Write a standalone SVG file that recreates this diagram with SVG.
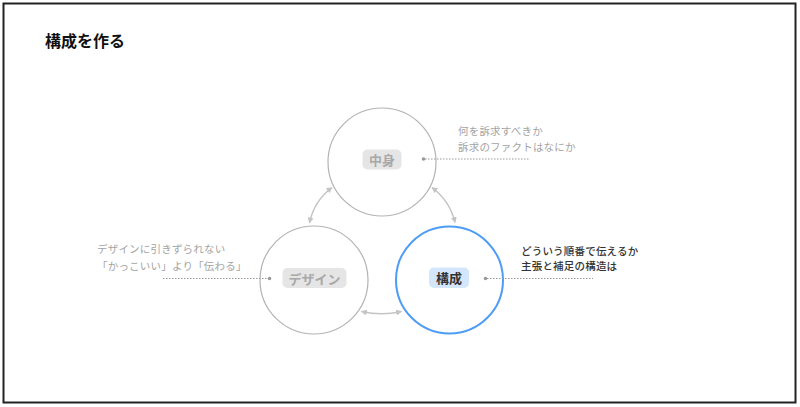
<svg xmlns="http://www.w3.org/2000/svg" width="800" height="407" viewBox="0 0 800 407">
<style>
.frame{fill:#fff;stroke:#222;stroke-width:2}
.title{font-family:"Noto Sans CJK JP","Noto Sans",sans-serif;font-size:16px;font-weight:700;fill:#111}
.circ{fill:none;stroke:#b3b3b3;stroke-width:1.2}
.circ-active{fill:none;stroke:#4f9cf5;stroke-width:2}
.pill{fill:#e5e5e5}
.pill-active{fill:#d4e6fc}
.lbl{font-family:"Noto Sans CJK JP","Noto Sans",sans-serif;font-size:13px;font-weight:700;fill:#a8a8a8;text-anchor:middle;dominant-baseline:central}
.lbl-active{fill:#333}
.note{font-family:"Noto Sans CJK JP","Noto Sans",sans-serif;font-size:10.5px;letter-spacing:0.2px;fill:#a3a3a3}
.note-active{fill:#333;font-weight:500}
.lead{stroke:#999;stroke-width:1;stroke-dasharray:1.5 1.5;fill:none}
.dot{fill:#999}
.arrow{fill:none;stroke:#c4c4c4;stroke-width:1.5;marker-start:url(#ah);marker-end:url(#ah)}
</style>
<defs>
<marker id="ah" viewBox="0 0 10 10" refX="9" refY="5" markerWidth="6" markerHeight="6" markerUnits="userSpaceOnUse" orient="auto-start-reverse">
<path d="M0,0 L10,5 L0,10 z" fill="#c4c4c4"/>
</marker>
</defs>
<rect class="frame" x="3.5" y="3.5" width="792" height="399"/>
<text class="title" x="45" y="47">構成を作る</text>
<g id="connectors">
<path class="arrow" d="M332,187.5 Q314,201 309.5,223"/>
<path class="arrow" d="M432,187.5 Q450,201 455,222.5"/>
<path class="arrow" d="M361.5,311.5 Q381.5,316 401.5,311.5"/>
</g>
<g id="node-nakami">
<circle class="circ" cx="382" cy="162" r="54"/>
<rect class="pill" x="362.5" y="149.5" width="39" height="20" rx="5"/>
<text class="lbl" x="382" y="159.5">中身</text>
<circle class="dot" cx="423.5" cy="159" r="1.8"/>
<path class="lead" d="M425,159 H530"/>
<text class="note" x="458" y="135">何を訴求すべきか</text>
<text class="note" x="458" y="151">訴求のファクトはなにか</text>
</g>
<g id="node-design">
<circle class="circ" cx="314" cy="280" r="54"/>
<rect class="pill" x="282.5" y="268" width="64" height="20" rx="5"/>
<text class="lbl" x="314.5" y="278">デザイン</text>
<circle class="dot" cx="269.5" cy="278.5" r="1.8"/>
<path class="lead" d="M163,278.5 H268"/>
<text class="note" x="97" y="253">デザインに引きずられない</text>
<text class="note" x="97" y="269.5">「かっこいい」より「伝わる」</text>
</g>
<g id="node-kousei">
<circle class="circ-active" cx="449.5" cy="280" r="53.5"/>
<rect class="pill-active" x="429" y="267.5" width="40" height="20.5" rx="5"/>
<text class="lbl lbl-active" x="449" y="277.5">構成</text>
<circle class="dot" cx="485.5" cy="278.5" r="1.8"/>
<path class="lead" d="M487,278.5 H593"/>
<text class="note note-active" x="521" y="255">どういう順番で伝えるか</text>
<text class="note note-active" x="521" y="270">主張と補足の構造は</text>
</g>
</svg>
